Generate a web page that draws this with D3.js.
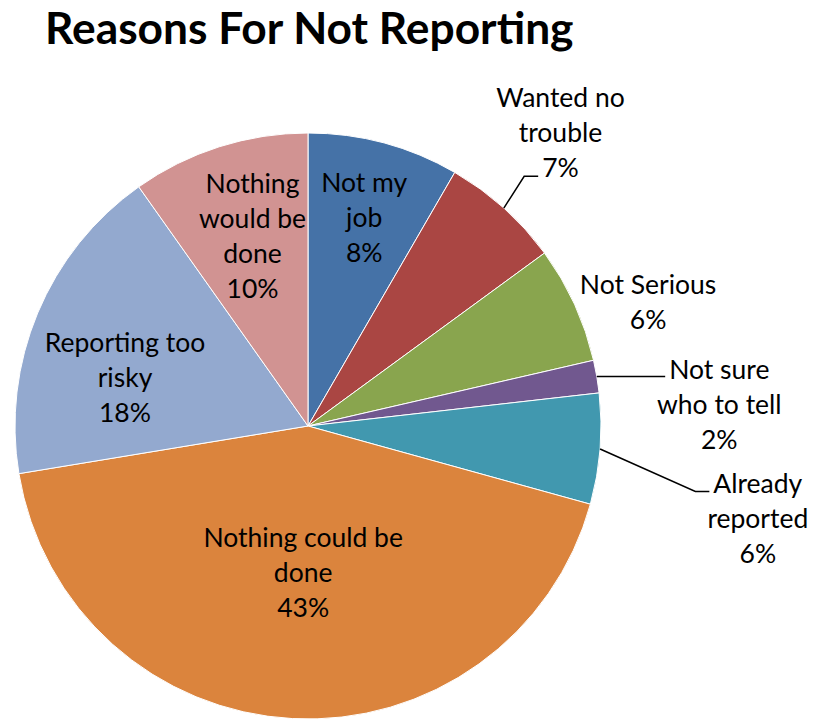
<!DOCTYPE html>
<html>
<head>
<meta charset="utf-8">
<script src="https://d3js.org/d3.v7.min.js"></script>
<style>
  body { margin: 0; background: #fff; }
  text { font-family: Lato, "Open Sans", sans-serif; fill: #000; }
</style>
</head>
<body>
<div id="chart"></div>
<script>
    // data, clockwise from 12 o'clock
    var categories = ["Not my job", "Wanted no trouble", "Not Serious", "Not sure who to tell",
        "Already reported", "Nothing could be done", "Reporting too risky", "Nothing would be done"];
    var values = [8.35, 6.6, 6.45, 1.8, 6.1, 43.1, 17.8, 9.8];
    var percentLabels = ["8%", "7%", "6%", "2%", "6%", "43%", "18%", "10%"];
    var colors = ["#4572A7", "#AA4643", "#89A54E", "#71588F", "#4198AF", "#DB843D", "#93A9CF", "#D19392"];

    // label layout: wrapped lines, radius (x R) along mid angle, small nudges, leader line
    var labelLayout = [
        {lines: ["Not my", "job"], r: 0.74, dx: 0, dy: 0},
        {lines: ["Wanted no", "trouble"], r: 1.32, dx: -6, dy: -6, leader: true},
        {lines: ["Not Serious"], r: 1.22, dx: 15, dy: 24},
        {lines: ["Not sure", "who to tell"], r: 1.4, dx: 7, dy: 0, leader: true},
        {lines: ["Already", "reported"], r: 1.54, dx: 0, dy: 57, leader: true},
        {lines: ["Nothing could be", "done"], r: 0.5, dx: 3, dy: 0},
        {lines: ["Reporting too", "risky"], r: 0.64, dx: -10, dy: 23},
        {lines: ["Nothing", "would be", "done"], r: 0.67, dx: 4, dy: -3}
    ];

    var W = 813, H = 719;
    var cx = 308, cy = 426, R = 293;
    var lineH = 35;

    var svg = d3.select("#chart").append("svg")
        .attr("width", W)
        .attr("height", H);

    svg.append("text")
        .attr("x", 45)
        .attr("y", 44)
        .attr("font-size", 44.3)
        .attr("font-weight", "bold")
        .text("Reasons For Not Reporting");

    var pie = d3.pie().sort(null).value(function(d) { return d; });
    var arcs = pie(values);
    var arc = d3.arc().innerRadius(0).outerRadius(R);

    var g = svg.append("g").attr("transform", "translate(" + cx + "," + cy + ")");

    g.selectAll("path.slice")
        .data(arcs)
        .enter()
        .append("path")
        .attr("class", "slice")
        .attr("d", arc)
        .attr("fill", function(d, i) { return colors[i]; })
        .attr("stroke", "#fff")
        .attr("stroke-width", 1);

    function polar(a, r) {
        return [Math.sin(a) * r, -Math.cos(a) * r];
    }

    arcs.forEach(function(d, i) {
        var L = labelLayout[i];
        var mid = (d.startAngle + d.endAngle) / 2;
        var p = polar(mid, L.r * R);
        var start = polar(mid, R);
        var x = p[0] + L.dx, y = p[1] + L.dy;
        var lines = L.lines.concat([percentLabels[i]]);
        // "not sure" label sits on the horizontal leader
        if (i === 3) y = start[1] - 8 + (lines.length - 1) * lineH / 2;
        var y0 = y - (lines.length - 1) * lineH / 2;

        var lab = g.append("g");
        var widths = [];
        lines.forEach(function(t, k) {
            var tx = lab.append("text")
                .attr("x", x)
                .attr("y", y0 + k * lineH)
                .attr("text-anchor", "middle")
                .attr("dominant-baseline", "central")
                .attr("font-size", 26.5)
                .text(t);
            widths.push(tx.node().getComputedTextLength());
        });

        if (L.leader) {
            var ly, ex, bx;
            if (i === 1) {
                // leader ends at the percent line
                ly = y0 + (lines.length - 1) * lineH + 9;
                ex = x - widths[lines.length - 1] / 2 - 4;
            } else {
                ly = y0 + 8;
                ex = x - widths[0] / 2 - 4;
            }
            bx = i === 3 ? start[0] : ex - 14;
            g.append("path")
                .attr("d", d3.line()([start, [bx, ly], [ex, ly]]))
                .attr("fill", "none")
                .attr("stroke", "#000")
                .attr("stroke-width", 1.5);
        }
    });
</script>
</body>
</html>
